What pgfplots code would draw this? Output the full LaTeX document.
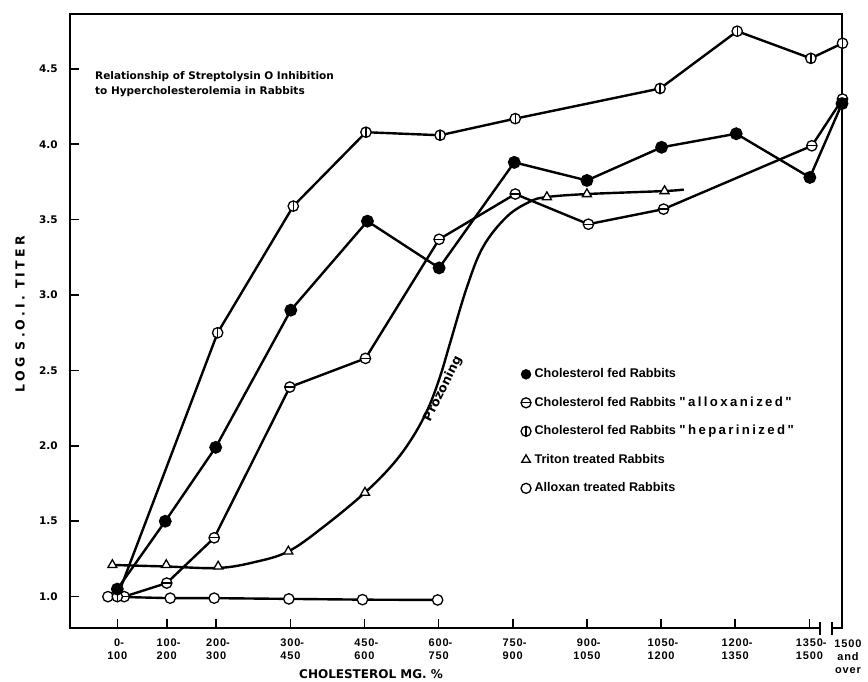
\documentclass[border=0pt]{standalone}
\usepackage{fontspec}
\setmainfont{DejaVu Sans}
\newfontfamily\spacedfont{DejaVu Sans}[LetterSpace=25]
\newfontfamily\tickfont{Liberation Sans}[LetterSpace=8]
\newfontfamily\legendfont{Liberation Sans}
\newfontfamily\quotefont{Liberation Sans}[LetterSpace=18]
\usepackage{pgfplots}
\pgfplotsset{compat=1.18}
\pgfdeclareplotmark{ominus}{%
 \pgfpathcircle{\pgfpointorigin}{\pgfplotmarksize}\pgfusepathqfillstroke
 \pgfpathmoveto{\pgfqpoint{-\pgfplotmarksize}{0pt}}\pgfpathlineto{\pgfqpoint{\pgfplotmarksize}{0pt}}\pgfusepathqstroke}
\pgfdeclareplotmark{ophi}{%
 \pgfpathcircle{\pgfpointorigin}{\pgfplotmarksize}\pgfusepathqfillstroke
 \pgfpathmoveto{\pgfqpoint{0pt}{-\pgfplotmarksize}}\pgfpathlineto{\pgfqpoint{0pt}{\pgfplotmarksize}}\pgfusepathqstroke}
\begin{document}
\bfseries
\begin{tikzpicture}[x=1pt,y=1pt]
\useasboundingbox (0pt,0pt) rectangle (868pt,-682pt);
\begin{axis}[
 at={(70pt,-628pt)}, anchor=south west,
 scale only axis, width=772pt, height=614pt,
 xmin=-0.957, xmax=14.66, ymin=0.792, ymax=4.864,
 clip=false,
 axis line style={draw=none},
 tick align=inside, xtick pos=left, ytick pos=left,
 major tick length=9pt,
 tick style={line width=1.6pt, black},
 xtick={0,1,2,3.5,5,6.5,8,9.5,11,12.5,14},
 xticklabels={{0\rlap{-}\\100},{100\rlap{-}\\200},{200\rlap{-}\\300},{300\rlap{-}\\450},{450\rlap{-}\\600},{600\rlap{-}\\750},{750\rlap{-}\\900},{900\rlap{-}\\1050},{1050\rlap{-}\\1200},{1200\rlap{-}\\1350},{1350\rlap{-}\\1500}},
 xticklabel style={align=center, font=\tickfont\bfseries\fontsize{11}{13.3}\selectfont, yshift=-7pt},
 ytick={1,1.5,2,2.5,3,3.5,4,4.5},
 yticklabels={1.0,1.5,2.0,2.5,3.0,3.5,4.0,4.5},
 yticklabel style={font=\fontsize{10.5}{12}\selectfont, xshift=-8.7pt},
 xlabel={CHOLESTEROL MG. \%},
 xlabel style={at={(axis description cs:0.39,0)}, anchor=center, yshift=-46pt, font=\fontsize{12}{14}\selectfont},
 ylabel={LOG S.O.I. TITER},
 ylabel style={at={(axis description cs:-0.0648,0.511)}, anchor=center, font=\spacedfont\bfseries\fontsize{12.5}{14}\selectfont},
 legend style={at={(0.584,0.4265)}, anchor=north west, draw=none, fill=none, inner sep=0pt, row sep=12.5pt, font=\legendfont\bfseries\fontsize{12.6}{15}\selectfont, nodes={inner ysep=2pt, inner xsep=3.5pt, text height=9.5pt, text depth=2.5pt}},
 legend cell align=left,
 legend image code/.code={\draw[#1] plot coordinates {(0pt,0pt)};},
]
% frame with axis break
\draw[line width=1.8pt] (rel axis cs:0.9715,0) -- (rel axis cs:0,0) -- (rel axis cs:0,1) -- (rel axis cs:1,1) -- (rel axis cs:1,0) -- (rel axis cs:0.987,0);
\draw[line width=1.6pt] (rel axis cs:0.9715,0) ++(0pt,-6.5pt) -- ++(0pt,13pt);
\draw[line width=1.6pt] (rel axis cs:0.987,0) ++(0pt,-6.5pt) -- ++(0pt,13pt);

% Alloxan treated
\addplot[black, line width=2.4pt, mark=*, mark size=5.2pt, mark options={fill=white, line width=1.3pt}, forget plot] coordinates {
(-0.19,1.00) (1.07,0.99) (1.96,0.99) (3.47,0.985) (4.96,0.98) (6.48,0.978)};
% Triton curve
\addplot[black, line width=2.4pt, smooth, tension=0.6, forget plot] coordinates {
(-0.10,1.21) (0.985,1.20) (2.04,1.19) (2.79,1.23) (3.46,1.30) (4.16,1.46) (5.01,1.69) (5.58,1.88) (5.98,2.06) (6.29,2.25) (6.53,2.46) (6.73,2.68) (7.07,3.05) (7.40,3.32) (7.88,3.52) (8.35,3.62) (8.69,3.65) (9.50,3.67) (11.07,3.69) (11.46,3.70)};
\addplot[black, only marks, mark=triangle*, mark size=5.2pt, mark options={fill=white, line width=1.3pt}, forget plot] coordinates {
(-0.10,1.21) (0.99,1.21) (2.04,1.20) (3.46,1.30) (5.01,1.69) (8.69,3.65) (9.50,3.67) (11.07,3.69)};
% Alloxanized
\addplot[black, line width=2.4pt, mark=ominus, mark size=5.2pt, mark options={fill=white, line width=1.3pt}, forget plot] coordinates {
(0.14,1.00) (1.00,1.09) (1.96,1.39) (3.49,2.39) (5.02,2.58) (6.51,3.37) (8.05,3.67) (9.53,3.47) (11.05,3.57) (14.05,3.99) (14.67,4.30)};
% Heparinized
\addplot[black, line width=2.4pt, mark=ophi, mark size=5.2pt, mark options={fill=white, line width=1.3pt}, forget plot] coordinates {
(0,1.00) (2.03,2.75) (3.56,3.59) (5.03,4.08) (6.53,4.06) (8.05,4.17) (10.98,4.37) (12.54,4.75) (14.03,4.57) (14.67,4.67)};
% Cholesterol fed
\addplot[black, line width=2.4pt, mark=*, mark size=5.2pt, forget plot] coordinates {
(0,1.05) (0.97,1.50) (1.99,1.99) (3.51,2.90) (5.06,3.49) (6.51,3.18) (8.03,3.88) (9.50,3.76) (11.01,3.98) (12.52,4.07) (14.01,3.78) (14.66,4.27)};

\addlegendimage{black, mark=*, mark size=5pt}
\addlegendentry{Cholesterol fed Rabbits}
\addlegendimage{black, mark=ominus, mark size=5pt, mark options={fill=white, line width=1.3pt}}
\addlegendentry{Cholesterol fed Rabbits {\quotefont\bfseries\fontsize{13.2}{15}\selectfont "alloxanized"}}
\addlegendimage{black, mark=ophi, mark size=5pt, mark options={fill=white, line width=1.3pt}}
\addlegendentry{Cholesterol fed Rabbits {\quotefont\bfseries\fontsize{13.2}{15}\selectfont "heparinized"}}
\addlegendimage{black, mark=triangle*, mark size=5pt, mark options={fill=white, line width=1.3pt}}
\addlegendentry{Triton treated Rabbits}
\addlegendimage{black, mark=*, mark size=5pt, mark options={fill=white, line width=1.3pt}}
\addlegendentry{Alloxan treated Rabbits}
\end{axis}
\node[anchor=north west, align=left, inner sep=0pt, font=\fontsize{10.5}{14.7}\selectfont] at (95pt,-71.3pt) {Relationship of Streptolysin O Inhibition\\to Hypercholesterolemia in Rabbits};
\node[anchor=north, align=center, inner sep=0pt, font=\tickfont\bfseries\fontsize{11}{13.3}\selectfont] at (848pt,-639.3pt) {1500\\and\\over};
\node[rotate=63.4, font=\fontsize{12.5}{15}\selectfont, inner sep=0pt] at (443pt,-389pt) {Prozoning};
\end{tikzpicture}
\end{document}
